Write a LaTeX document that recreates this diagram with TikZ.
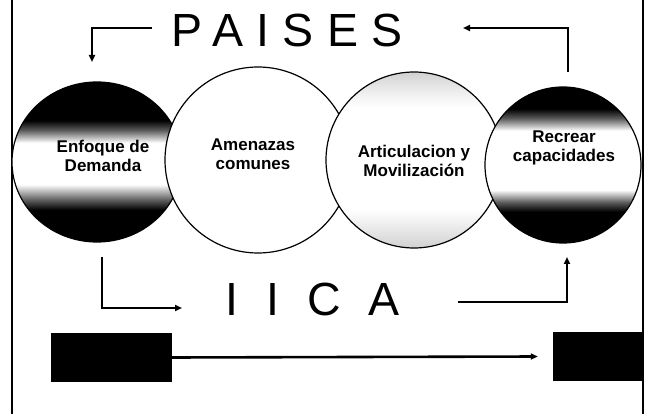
\documentclass[tikz,border=0pt]{standalone}
\usepackage{fontspec}
\setmainfont{Liberation Sans}
\usetikzlibrary{arrows.meta,positioning,shapes.geometric}

\pgfdeclareverticalshading{darkleft}{100bp}{color(0bp)=(black); color(35bp)=(black); color(38bp)=(black!65); color(43bp)=(white); color(56bp)=(white); color(60bp)=(black!65); color(63bp)=(black); color(100bp)=(black)}
\pgfdeclareverticalshading{darkright}{100bp}{color(0bp)=(black); color(35bp)=(black); color(38bp)=(black!65); color(42bp)=(white); color(61bp)=(white); color(65bp)=(black!65); color(68bp)=(black); color(100bp)=(black)}
\pgfdeclareverticalshading{lightband}{100bp}{color(0bp)=(black!18); color(25bp)=(black!18); color(31bp)=(black!8); color(36bp)=(white); color(65bp)=(white); color(70bp)=(black!8); color(75bp)=(black!18); color(100bp)=(black!18)}

\begin{document}
\begin{tikzpicture}[x=1pt, y=-1pt, >={Triangle[length=7pt,width=6pt]},
  ring/.style={draw, line width=1.2pt, inner sep=0pt},
  lbl/.style={font=\bfseries\fontsize{17}{19.5}\selectfont, align=center, inner sep=0pt},
  big/.style={font=\fontsize{46.5}{46.5}\selectfont, inner sep=0pt, anchor=base west},
  blk/.style={fill=black, inner sep=0pt},
  conn/.style={line width=1.8pt}
]
\useasboundingbox (0,0) rectangle (651,414);
% frame sides
\draw[line width=2pt] (12,0) -- (12,414);
\draw[line width=2pt] (643,0) -- (643,414);
% the four circles, left to right
\node[ring, ellipse, minimum width=170pt, minimum height=160pt, shading=darkleft] (enf) at (97,162) {};
\node[ring, circle, fill=white, minimum size=186pt] (ame) at (258,160) {};
\node[ring, circle, shading=lightband, minimum size=176pt] (art) at (414,160) {};
\node[ring, circle, shading=darkright, minimum size=156pt] (rec) at (563,165) {};
\node[lbl] (enft) at ([xshift=6pt,yshift=6pt]enf.center) {Enfoque de\\Demanda};
\node[lbl] (amet) at ([xshift=-5pt,yshift=6pt]ame.center) {Amenazas\\comunes};
\node[lbl] (artt) at ([yshift=-1pt]art.center) {Articulacion y\\Movilización};
\node[lbl] (rect) at ([xshift=1pt,yshift=17pt]rec.center) {Recrear\\capacidades};
% titles
\node[big] (pai) at (171.5,47) {\addfontfeatures{LetterSpace=28.4}PAISES};
\node[big] (iic) at (225.6,316) {\addfontfeatures{LetterSpace=60}IICA};
% top loop
\coordinate (pl) at (152,28);
\coordinate (dl) at (92,62);
\coordinate (ur) at (568,72);
\coordinate (pr) at (463,28);
\draw[conn, ->] (pl) -| (dl);
\draw[conn, ->] (ur) |- (pr);
% bottom loop
\coordinate (bl) at (102,257);
\coordinate (il) at (182,308);
\coordinate (ir) at (458,302);
\coordinate (br) at (567,257);
\draw[conn, ->] (bl) |- (il);
\draw[conn, ->] (ir) -| (br);
% bar
\node[blk, minimum width=121pt, minimum height=49pt] (b1) at (111.5,357.5) {};
\node[blk, minimum width=90pt, minimum height=49pt] (b2) at (598,356.5) {};
\draw[line width=2.6pt, ->] (b1.east) -- ([xshift=-15pt]b2.west);
\end{tikzpicture}
\end{document}
